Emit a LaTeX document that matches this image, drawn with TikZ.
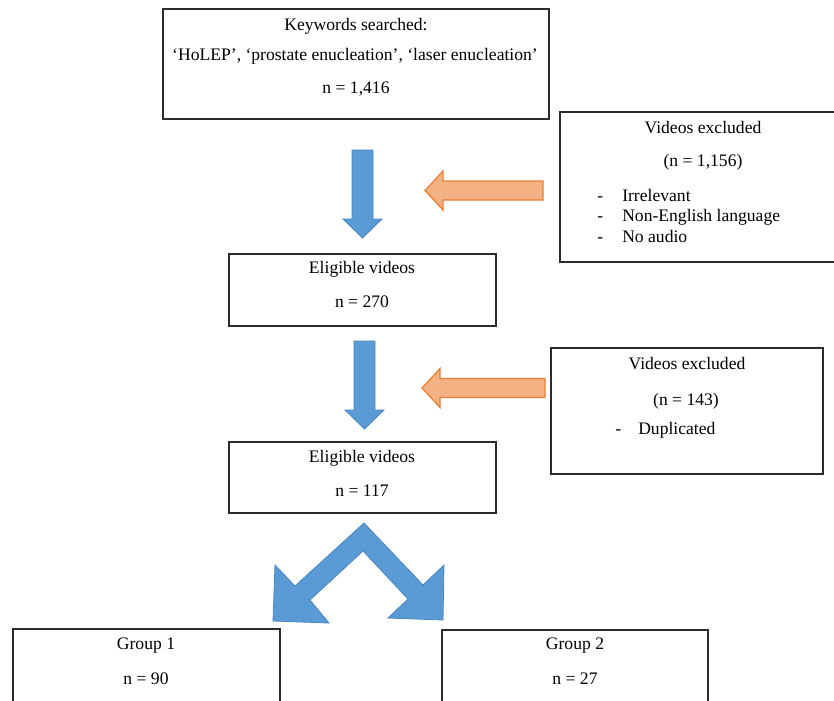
\documentclass[tikz,border=0pt]{standalone}
\usepackage{fontspec}
\setmainfont{Liberation Serif}
\usepackage{tikz}
\usetikzlibrary{fit}
\definecolor{cInk}{HTML}{2B2B2B}
\definecolor{cBlue}{HTML}{5B9BD5}
\definecolor{cBlueEdge}{HTML}{4A86C0}
\definecolor{cPeach}{HTML}{F4B183}
\definecolor{cOrange}{HTML}{ED7D31}
\tikzset{
  box/.style={draw=cInk,line width=0.9pt,inner sep=0pt},
  txt/.style={font=\fontsize{13.2}{15}\selectfont,text=black,inner sep=0pt,text height=9.5pt,text depth=2.5pt},
  item/.style={txt,anchor=west},
  downarr/.style={fill=cBlue,draw=cBlueEdge,line width=0.6pt},
  leftarr/.style={fill=cPeach,draw=cOrange,line width=0.9pt},
}

\begin{document}
\begin{tikzpicture}[x=0.75pt,y=-0.75pt]
  \useasboundingbox (0,0) rectangle (834,700);
  % boxes
  \node[box,fit={(163,9) (549,119)}] (search) {};
  \node[box,fit={(560,112) (846,262)}] (excl1) {};
  \node[box,fit={(229,254) (496,326)}] (elig1) {};
  \node[box,fit={(551,348) (823,474)}] (excl2) {};
  \node[box,fit={(229,442) (496,513)}] (elig2) {};
  \node[box,fit={(13,629) (280,715)}] (grp1) {};
  \node[box,fit={(442,630) (708,715)}] (grp2) {};
  % texts
  \node[txt] (searchT) at (356,26) {Keywords searched:};
  \node[txt] (searchK) at (355,56) {‘HoLEP’, ‘prostate enucleation’, ‘laser enucleation’};
  \node[txt] (searchN) at (356,89) {n = 1,416};
  \node[txt] (excl1T) at (703,129) {Videos excluded};
  \node[txt] (excl1N) at (703,162) {(n = 1,156)};
  \foreach \t/\y [count=\i] in {Irrelevant/197,Non-English language/217,No audio/238}
    \node[item] (excl1-\i) at (597,\y) {\makebox[18.75pt][l]{-}\t};
  \node[txt] (elig1T) at (362,269) {Eligible videos};
  \node[txt] (elig1N) at (362,303) {n = 270};
  \node[txt] (excl2T) at (687,365) {Videos excluded};
  \node[txt] (excl2N) at (686,401) {(n = 143)};
  \node[item] (excl2-1) at (615,430) {\makebox[17.25pt][l]{-}Duplicated};
  \node[txt] (elig2T) at (362,458) {Eligible videos};
  \node[txt] (elig2N) at (362,492) {n = 117};
  \node[txt] (grp1T) at (146,645) {Group 1};
  \node[txt] (grp1N) at (146,680) {n = 90};
  \node[txt] (grp2T) at (575,645) {Group 2};
  \node[txt] (grp2N) at (575,680) {n = 27};
  % block arrows
  \foreach \cx/\top/\neck/\tip in {362.5/150/219/238,364.5/341/410/429}
    \filldraw[downarr] (\cx-10.5,\top) -- (\cx+10.5,\top) -- (\cx+10.5,\neck) -- (\cx+19.5,\neck)
      -- (\cx,\tip) -- (\cx-19.5,\neck) -- (\cx-10.5,\neck) -- cycle;
  \foreach \cy/\tail/\base/\tip in {190.5/543/443/425,388/545/440/422}
    \filldraw[leftarr] (\tail,\cy-9.5) -- (\base,\cy-9.5) -- (\base,\cy-19.5) -- (\tip,\cy)
      -- (\base,\cy+19.5) -- (\base,\cy+9.5) -- (\tail,\cy+9.5) -- cycle;
  \filldraw[downarr] (364,523) -- (423,585) -- (444,565) -- (443,620) -- (388,618) -- (408,599)
    -- (363,551) -- (310,600) -- (329,623) -- (273,621) -- (275,565) -- (295,586) -- cycle;
\end{tikzpicture}
\end{document}
